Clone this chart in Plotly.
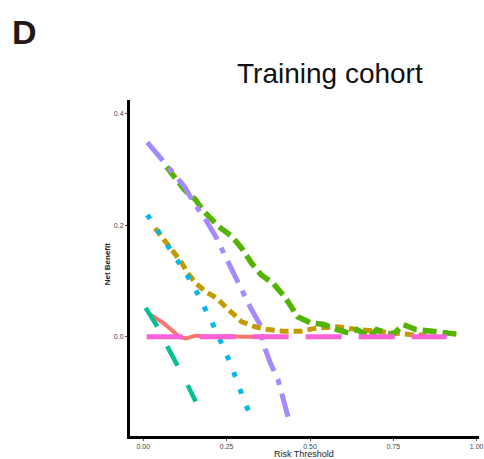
import plotly.graph_objects as go

# ---- data ----
salmon_x = [0.02, 0.04, 0.06, 0.083, 0.108, 0.128, 0.157, 0.20, 0.25, 0.30, 0.35, 0.40]
salmon_y = [0.040, 0.033, 0.025, 0.013, 0.000, -0.003, 0.002, 0.000, 0.001, 0.000, 0.000, 0.000]

gold_x = [0.035, 0.073, 0.113, 0.133, 0.160, 0.187, 0.221, 0.241, 0.266, 0.295, 0.335, 0.374, 0.419,
          0.473, 0.522, 0.581, 0.631, 0.729, 0.80, 0.85]
gold_y = [0.195, 0.165, 0.135, 0.114, 0.095, 0.081, 0.069, 0.057, 0.043, 0.027, 0.018, 0.013, 0.010,
          0.010, 0.016, 0.018, 0.014, 0.007, 0.004, 0.003]

green_x = [0.07, 0.093, 0.123, 0.157, 0.177, 0.226, 0.266, 0.295, 0.325, 0.354, 0.389, 0.424, 0.463,
           0.502, 0.542, 0.581, 0.616, 0.640, 0.680, 0.700, 0.749, 0.779, 0.818, 0.867, 0.917, 0.951]
green_y = [0.305, 0.288, 0.264, 0.246, 0.228, 0.198, 0.180, 0.159, 0.132, 0.111, 0.096, 0.072, 0.036,
           0.025, 0.022, 0.013, 0.007, 0.013, 0.000, 0.013, 0.004, 0.022, 0.013, 0.010, 0.007, 0.004]

teal_x = [0.007, 0.04, 0.07, 0.10, 0.13, 0.157]
teal_y = [0.052, 0.020, -0.015, -0.048, -0.083, -0.116]

cyan_x = [0.012, 0.049, 0.083, 0.118, 0.152, 0.207, 0.261, 0.305, 0.330]
cyan_y = [0.219, 0.186, 0.156, 0.123, 0.090, 0.025, -0.047, -0.119, -0.152]

purple_x = [0.012, 0.049, 0.093, 0.123, 0.152, 0.187, 0.217, 0.241, 0.271, 0.295, 0.320, 0.350,
            0.359, 0.379, 0.404, 0.419, 0.435]
purple_y = [0.349, 0.323, 0.294, 0.270, 0.240, 0.210, 0.180, 0.150, 0.117, 0.087, 0.054, 0.022,
            -0.011, -0.044, -0.077, -0.110, -0.146]

pink_x = [0.01, 0.91]
pink_y = [0.0, 0.0]

x_ticks = [0.0, 0.25, 0.5, 0.75, 1.0]
x_tick_labels = ["0.00", "0.25", "0.50", "0.75", "1.00"]
y_ticks = [0.0, 0.2, 0.4]
y_tick_labels = ["0.0", "0.2", "0.4"]

series = [
    (salmon_x, salmon_y, "#F8766D", "solid", 4),
    (gold_x, gold_y, "#C49A00", "9px,5px", 5),
    (green_x, green_y, "#53B400", "14px,6px", 5.5),
    (teal_x, teal_y, "#00C094", "22px,22px", 4.5),
    (cyan_x, cyan_y, "#00B6EB", "5px,13px", 5),
    (purple_x, purple_y, "#A58AFF", "24px,9px,6px,9px", 5),
    (pink_x, pink_y, "#FB61D7", "36px,17px", 5),
]

W, H = 484, 459
ML, MR, MT, MB = 130, 0, 100, 23

fig = go.Figure()
for xs, ys, col, dash, w in series:
    fig.add_trace(go.Scatter(x=xs, y=ys, mode="lines",
                             line=dict(color=col, dash=dash, width=w),
                             showlegend=False, hoverinfo="skip"))

fig.update_layout(
    width=W, height=H,
    margin=dict(l=ML, r=MR, t=MT, b=MB),
    paper_bgcolor="white", plot_bgcolor="white",
    font=dict(family="Liberation Sans, Arial, sans-serif", color="#222222"),
    xaxis=dict(range=[-0.04, 1.007], tickvals=x_ticks, ticktext=x_tick_labels,
               showgrid=False, zeroline=False, showline=True, linecolor="black", linewidth=3,
               ticks="outside", ticklen=2, tickcolor="#555555", tickwidth=1,
               ticklabeloverflow="allow",
               tickfont=dict(size=7, color="#444444")),
    yaxis=dict(range=[-0.178, 0.425], tickvals=y_ticks, ticktext=y_tick_labels,
               showgrid=False, zeroline=False, showline=True, linecolor="black", linewidth=3,
               ticks="outside", ticklen=2, tickcolor="#555555", tickwidth=1,
               tickfont=dict(size=7, color="#444444")),
)


def px_ann(text, px, py, size, color, angle=0):
    fig.add_annotation(text=text, xref="paper", yref="paper",
                       x=(px - ML) / (W - ML - MR), y=(H - py - MB) / (H - MT - MB),
                       xanchor="center", yanchor="middle", showarrow=False, textangle=angle,
                       borderpad=0, font=dict(size=size, color=color))


px_ann("Training cohort", 333, 73, 28, "#111111")
px_ann("<b>D</b>", 23, 32, 34, "#231815")
px_ann("Risk Threshold", 306, 454, 9, "#222222")
px_ann("<b>Net Benefit</b>", 107, 264, 8, "#222222", angle=-90)

fig.write_html("out.html")
